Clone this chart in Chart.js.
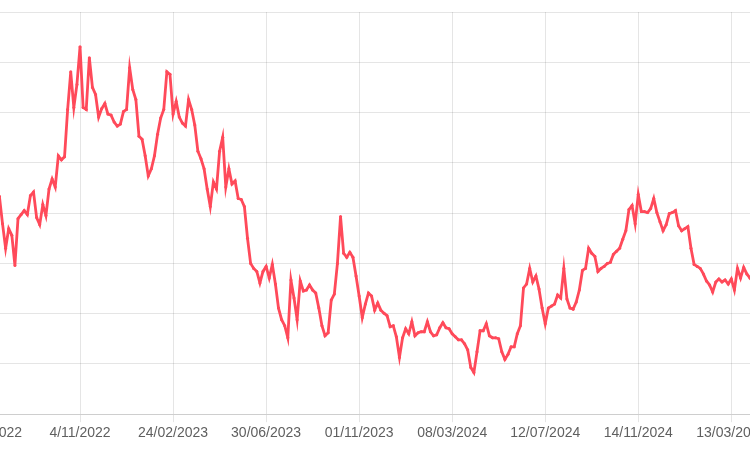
<!DOCTYPE html>
<html>
<head>
<meta charset="utf-8">
<script src="https://cdn.jsdelivr.net/npm/chart.js@4/dist/chart.umd.min.js"></script>
<style>
  html, body { margin: 0; padding: 0; overflow: hidden; background: #fff; }
  /* the plot is wider than the window: y labels and the ends sit off-screen */
  #wrap { position: absolute; left: -13px; top: 0; width: 766px; height: 450px; }
</style>
</head>
<body>
<div id="wrap"><canvas id="priceChart"></canvas></div>
<script>
const tickDates = [
  "27/06/2022", "4/11/2022", "24/02/2023", "30/06/2023", "01/11/2023",
  "08/03/2024", "12/07/2024", "14/11/2024", "13/03/2025"
];
const pointsPerTick = 30;

const prices = [
  39.9, 41.9, 42.9, 43.9, 43.3, 37.9, 33.0, 36.9, 35.6, 29.6,
  38.9, 39.7, 40.5, 39.7, 43.5, 44.2, 39.1, 37.7, 41.7, 39.5,
  44.8, 46.8, 45.2, 51.4, 50.6, 51.2, 60.6, 68.1, 61.0, 65.6,
  73.1, 61.0, 60.6, 70.9, 65.0, 63.6, 59.1, 60.8, 61.8, 59.7,
  59.5, 58.1, 57.3, 57.7, 60.2, 60.6, 68.9, 64.6, 62.6, 55.3,
  54.7, 51.4, 47.4, 48.8, 51.4, 55.7, 58.9, 60.6, 68.1, 67.6,
  59.7, 62.2, 59.1, 57.9, 57.3, 62.6, 60.6, 57.5, 52.3, 50.8,
  48.8, 44.8, 41.3, 46.2, 44.8, 52.3, 55.1, 45.2, 48.8, 45.8,
  46.4, 42.9, 42.7, 41.3, 35.0, 30.0, 29.0, 28.4, 26.1, 28.4,
  29.4, 27.1, 29.8, 25.9, 21.1, 18.8, 17.6, 15.2, 26.7, 23.1,
  18.8, 26.5, 24.5, 24.7, 25.7, 24.7, 24.1, 21.1, 17.6, 15.6,
  16.2, 22.7, 23.9, 30.0, 39.3, 32.0, 31.2, 32.2, 31.2, 27.5,
  23.5, 19.2, 21.9, 24.1, 23.5, 20.7, 22.1, 20.7, 20.1, 19.6,
  17.4, 17.6, 15.4, 11.3, 15.2, 17.0, 16.0, 18.4, 15.6, 16.2,
  16.4, 16.4, 18.4, 16.4, 15.6, 15.8, 17.2, 18.2, 17.2, 17.0,
  16.0, 15.4, 14.8, 14.8, 14.0, 12.8, 9.3, 8.3, 12.4, 16.6,
  16.6, 18.0, 15.6, 15.2, 15.2, 15.0, 12.4, 10.9, 11.9, 13.4,
  13.4, 16.0, 17.6, 25.1, 25.9, 29.0, 26.3, 27.5, 24.9, 21.1,
  18.0, 21.1, 21.5, 21.9, 23.7, 23.1, 29.0, 22.9, 21.1, 20.9,
  22.3, 24.7, 28.6, 29.0, 33.0, 32.0, 31.4, 28.4, 29.0, 29.4,
  30.0, 30.2, 31.8, 32.4, 33.0, 34.8, 36.5, 40.7, 41.5, 37.9,
  43.7, 40.3, 40.3, 40.1, 40.9, 42.9, 40.1, 38.3, 36.5, 37.7,
  39.9, 40.1, 40.5, 37.5, 36.5, 36.9, 37.3, 33.0, 29.8, 29.4,
  29.0, 27.9, 26.5, 25.7, 24.3, 26.3, 26.9, 26.3, 26.7, 25.9,
  26.9, 24.7, 29.0, 27.1, 29.2, 27.9, 27.1, 28.0
];

const labels = prices.map((_, i) =>
  i % pointsPerTick === 0 ? (tickDates[i / pointsPerTick] || "") : ""
);

const lineColor = "rgb(255, 74, 90)";

new Chart(document.getElementById("priceChart"), {
  type: "line",
  data: {
    labels,
    datasets: [{
      data: prices,
      borderColor: lineColor,
      backgroundColor: lineColor,
      borderWidth: 2.8,
      pointRadius: 1.5,
      pointBorderWidth: 0,
      pointBackgroundColor: lineColor,
      tension: 0,
      fill: false,
    }],
  },
  options: {
    responsive: true,
    maintainAspectRatio: false,
    animation: false,
    layout: { autoPadding: false, padding: { top: 12, bottom: 5, left: 0, right: 0 } },
    plugins: { legend: { display: false }, tooltip: { enabled: false } },
    scales: {
      x: {
        afterBuildTicks: (scale) => {
          scale.ticks = scale.ticks.filter((t) => labels[t.value] !== "");
        },
        // edge labels are allowed to run off the canvas
        afterFit: (scale) => {
          scale.paddingLeft = 0;
          scale.paddingRight = 0;
        },
        ticks: {
          autoSkip: false,
          maxRotation: 0,
          color: "#5f5f5f",
          font: { size: 14 },
        },
        grid: { color: "rgba(0,0,0,0.1)" },
      },
      y: {
        min: 0,
        max: 80,
        ticks: { display: false, stepSize: 10 },
        grid: { drawTicks: false, color: "rgba(0,0,0,0.1)" },
        border: { display: false },
      },
    },
  },
});
</script>
</body>
</html>
